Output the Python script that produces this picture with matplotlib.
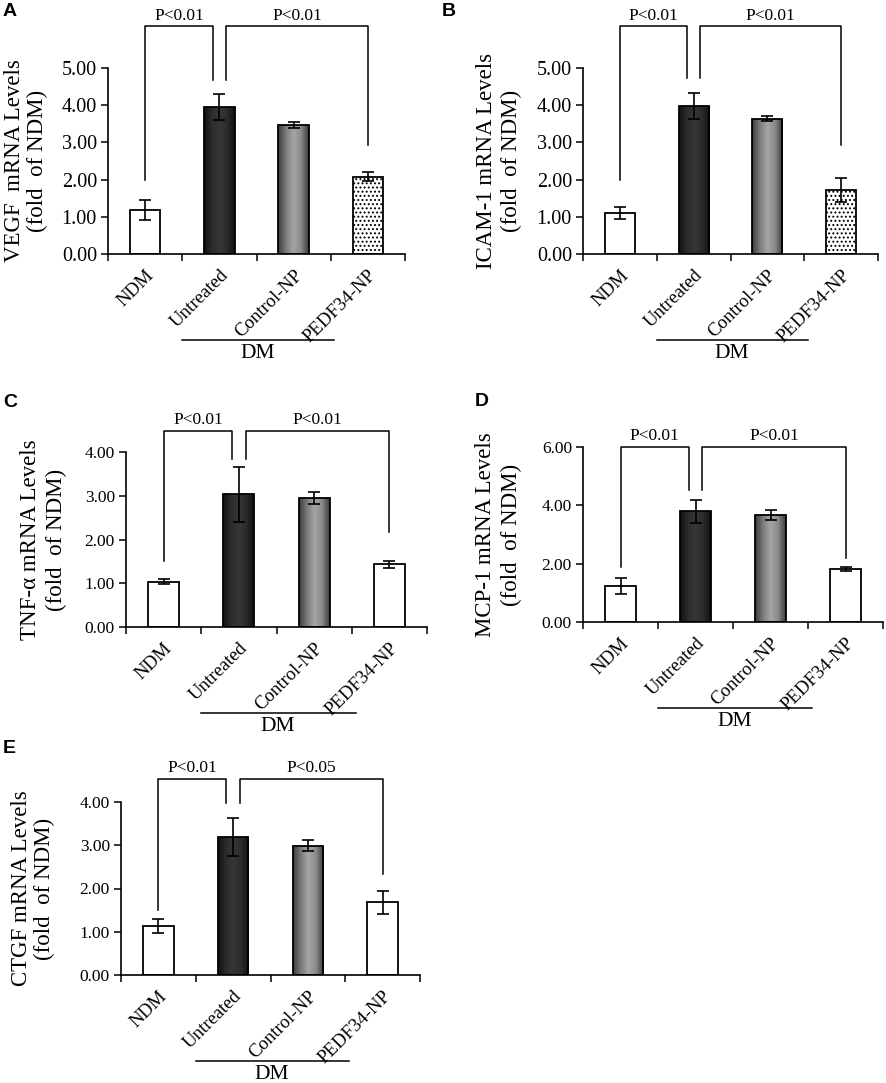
import numpy as np
import matplotlib
matplotlib.use("Agg")
import matplotlib.pyplot as plt
from matplotlib import transforms
from matplotlib.colors import LinearSegmentedColormap

plt.rcParams['font.family'] = ['Liberation Serif', 'DejaVu Serif']
plt.rcParams['hatch.linewidth'] = 0.9

W, H = 886, 1083
groups = ['NDM', 'Untreated', 'Control-NP', 'PEDF34-NP']

# values (fold of NDM)
vegf = [1.18, 3.95, 3.46, 2.08]
vegf_err = [0.27, 0.35, 0.08, 0.12]
icam = [1.10, 3.99, 3.64, 1.72]
icam_err = [0.17, 0.35, 0.06, 0.31]
tnf = [1.04, 3.03, 2.95, 1.43]
tnf_err = [0.06, 0.62, 0.14, 0.09]
mcp = [1.24, 3.80, 3.67, 1.81]
mcp_err = [0.28, 0.39, 0.16, 0.07]
ctgf = [1.14, 3.19, 2.99, 1.68]
ctgf_err = [0.16, 0.45, 0.13, 0.27]

pvals = {'A': ['P<0.01', 'P<0.01'], 'B': ['P<0.01', 'P<0.01'],
         'C': ['P<0.01', 'P<0.01'], 'D': ['P<0.01', 'P<0.01'],
         'E': ['P<0.01', 'P<0.05']}

fig = plt.figure(figsize=(W / 100, H / 100), dpi=100)

dark_cmap = LinearSegmentedColormap.from_list('dk', ['#111111', '#2c2c2c', '#363636', '#2c2c2c', '#111111'])
grey_cmap = LinearSegmentedColormap.from_list('gr', ['#3c3c3c', '#7a7a7a', '#a6a6a6', '#8a8a8a', '#3c3c3c'])


def px_axes(l, t, r, b):
    return fig.add_axes([l / W, 1 - b / H, (r - l) / W, (b - t) / H])


def below(ax, dy):
    return (transforms.blended_transform_factory(ax.transData, ax.transAxes)
            + transforms.ScaledTranslation(0, -dy / 100, fig.dpi_scale_trans))


def shade(ax, bar, cmap):
    x0, w, h = bar.get_x(), bar.get_width(), bar.get_height()
    im = ax.imshow(np.linspace(0, 1, 64)[None, :], cmap=cmap, extent=(x0, x0 + w, 0, h),
                   aspect='auto', zorder=1, interpolation='bilinear')
    im.set_clip_path(bar)


def panel(letter, box, vals, err, ylabel, ymax, ystep, tick_fs, lab_x, lab_ls,
          dotted, brk, letter_xy):
    ax = px_axes(*box)
    x = np.arange(len(groups))
    bars = ax.bar(x, vals, width=0.41, facecolor='white', edgecolor='black',
                  linewidth=1.3, zorder=2)
    bars[1].set_facecolor('none')
    bars[2].set_facecolor('none')
    shade(ax, bars[1], dark_cmap)
    shade(ax, bars[2], grey_cmap)
    if dotted:
        bars[3].set_hatch('....')
    ax.errorbar(x, vals, yerr=err, fmt='none', ecolor='black', elinewidth=1.2,
                capsize=4.5, capthick=1.2, zorder=3)

    ax.set_xlim(-0.5, 3.5)
    ax.set_ylim(0, ymax)
    ax.set_yticks(np.arange(0, ymax + 0.01, ystep))
    ax.set_yticklabels(['%.2f' % v for v in np.arange(0, ymax + 0.01, ystep)], fontsize=tick_fs)
    ax.tick_params(axis='y', direction='out', length=5, width=1.1, pad=3)
    ax.set_xticks(x)
    ax.set_xticklabels(groups, rotation=45, ha='right', va='top',
                       rotation_mode='anchor', fontsize=13.5)
    ax.tick_params(axis='x', which='major', length=0, pad=9)
    ax.set_xticks(np.arange(-0.5, 4, 1), minor=True)
    ax.tick_params(axis='x', which='minor', direction='out', length=5, width=1.1)
    for s in ['top', 'right']:
        ax.spines[s].set_visible(False)
    for s in ['left', 'bottom']:
        ax.spines[s].set_linewidth(1.2)

    ax.set_ylabel(ylabel, fontsize=16.5, linespacing=lab_ls)
    ax.yaxis.set_label_coords((lab_x - box[0]) / (box[2] - box[0]), 0.5)

    # significance brackets
    top, d0, d1, d3 = brk
    kw = dict(color='black', lw=1.1, clip_on=False, zorder=4)
    ax.plot([0, 0, 0.91, 0.91], [d0, top, top, d1], **kw)
    ax.plot([1.09, 1.09, 3, 3], [d1, top, top, d3], **kw)
    for xc, txt in zip([0.455, 2.045], pvals[letter]):
        ax.annotate(txt, (xc, top), xytext=(0, 2), textcoords='offset points',
                    ha='center', va='bottom', fontsize=12.5, annotation_clip=False)

    # DM group line
    ax.plot([0.5, 2.55], [0, 0], color='black', lw=1.1, clip_on=False,
            transform=below(ax, 86))
    ax.text(1.52, 0, 'DM', ha='center', va='baseline', fontsize=15.5,
            transform=below(ax, 104))

    fig.text(letter_xy[0] / W, 1 - letter_xy[1] / H, letter, fontsize=14,
             fontweight='bold', family='Liberation Sans', ha='left', va='top')
    return ax


panel('A', (108, 68, 405, 254), vegf, vegf_err, 'VEGF  mRNA Levels\n(fold  of NDM)',
      5, 1, 14.5, 48, 1.13, True, (6.12, 2.0, 4.68, 2.92), (3, 3))
panel('B', (583, 68, 878, 254), icam, icam_err, 'ICAM-1 mRNA Levels\n(fold  of NDM)',
      5, 1, 14.5, 522, 1.21, True, (6.12, 2.0, 4.73, 2.92), (442, 3))
panel('C', (126, 452, 427, 627), tnf, tnf_err, 'TNF-α mRNA Levels\n(fold  of NDM)',
      4, 1, 12.5, 67, 1.29, False, (4.48, 1.52, 3.85, 2.17), (3, 394))
panel('D', (583, 447, 883, 622), mcp, mcp_err, 'MCP-1 mRNA Levels\n(fold  of NDM)',
      6, 2, 12.5, 522, 1.29, False, (6.0, 1.9, 4.54, 2.21), (475, 393))
panel('E', (121, 802, 420, 975), ctgf, ctgf_err, 'CTGF mRNA Levels\n(fold  of NDM)',
      4, 1, 12.5, 55, 1.09, False, (4.53, 1.51, 3.98, 2.34), (3, 740))

fig.savefig('out.png', dpi=100)
